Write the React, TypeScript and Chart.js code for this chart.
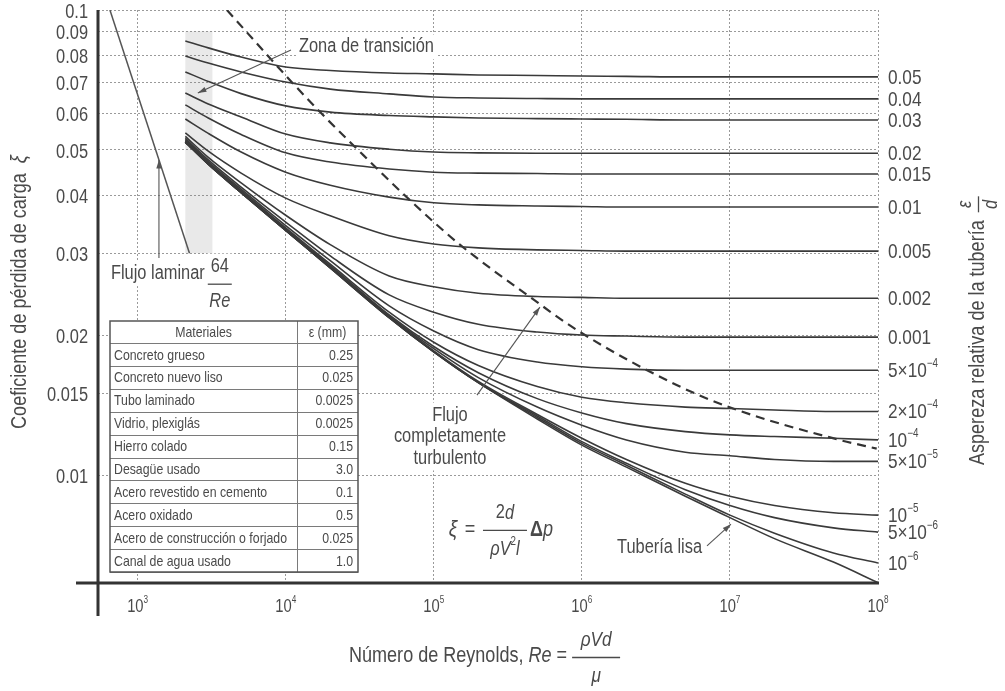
import React, { useEffect, useRef } from "react";
import { Chart, registerables } from "chart.js";

Chart.register(...registerables);

// ---------------- DATA ----------------
const reynolds = [2100, 3000, 5000, 1e4, 2e4, 5e4, 1e5, 2e5, 5e5, 1e6, 2e6, 5e6, 1e7, 2e7, 5e7, 1e8];

const f_0_05 = [0.0858, 0.0829, 0.0792, 0.0754, 0.0741, 0.0732, 0.0729, 0.0725, 0.0723, 0.0721, 0.072, 0.0718, 0.0718, 0.0718, 0.0718, 0.0718];
const f_0_04 = [0.0796, 0.0769, 0.0736, 0.07, 0.0676, 0.066, 0.065, 0.0647, 0.0645, 0.0644, 0.0644, 0.0644, 0.0644, 0.0644, 0.0644, 0.0644];
const f_0_03 = [0.0736, 0.0702, 0.0661, 0.0622, 0.0603, 0.0593, 0.0589, 0.0586, 0.0584, 0.0583, 0.0582, 0.058, 0.058, 0.058, 0.058, 0.058];
const f_0_02 = [0.0663, 0.0628, 0.0589, 0.0541, 0.0518, 0.0502, 0.0495, 0.0493, 0.0492, 0.0492, 0.0492, 0.0492, 0.0492, 0.0492, 0.0492, 0.0492];
const f_0_015 = [0.0625, 0.0586, 0.054, 0.0493, 0.0471, 0.0455, 0.0448, 0.0446, 0.0445, 0.0444, 0.0444, 0.0444, 0.0444, 0.0444, 0.0444, 0.0444];
const f_0_01 = [0.0583, 0.0543, 0.0495, 0.0448, 0.042, 0.0396, 0.0385, 0.0381, 0.0379, 0.0378, 0.0377, 0.0377, 0.0377, 0.0377, 0.0377, 0.0377];
const f_0_005 = [0.0544, 0.0497, 0.0446, 0.0394, 0.0361, 0.0327, 0.0314, 0.0308, 0.0305, 0.0304, 0.0303, 0.0303, 0.0303, 0.0303, 0.0303, 0.0303];
const f_0_002 = [0.0535, 0.0482, 0.0425, 0.0362, 0.0313, 0.0268, 0.0254, 0.0246, 0.0242, 0.0241, 0.024, 0.024, 0.024, 0.024, 0.024, 0.024];
const f_0_001 = [0.053, 0.0476, 0.0416, 0.035, 0.0296, 0.0244, 0.0224, 0.0211, 0.0203, 0.02, 0.0199, 0.0198, 0.0198, 0.0198, 0.0198, 0.0198];
const f_5e4 = [0.0527, 0.0472, 0.0412, 0.0344, 0.0289, 0.0231, 0.0204, 0.0186, 0.0175, 0.0171, 0.0169, 0.0168, 0.0168, 0.0168, 0.0168, 0.0168];
const f_2e4 = [0.0524, 0.047, 0.0409, 0.034, 0.0284, 0.0224, 0.0193, 0.0172, 0.0155, 0.0147, 0.0143, 0.014, 0.0139, 0.0138, 0.0137, 0.0137];
const f_1e4 = [0.0522, 0.0468, 0.0407, 0.0338, 0.0282, 0.0221, 0.0189, 0.0166, 0.0146, 0.0136, 0.0129, 0.0124, 0.0122, 0.0121, 0.012, 0.0119];
const f_5e5 = [0.0521, 0.0467, 0.0406, 0.0337, 0.0281, 0.022, 0.0187, 0.0162, 0.014, 0.0128, 0.0119, 0.0112, 0.011, 0.0108, 0.0107, 0.0107];
const f_1e5 = [0.052, 0.0466, 0.0405, 0.0336, 0.028, 0.0219, 0.0185, 0.0159, 0.0135, 0.012, 0.0108, 0.0096, 0.009, 0.0086, 0.0083, 0.0082];
const f_5e6 = [0.052, 0.0466, 0.0405, 0.0336, 0.0279, 0.0218, 0.0184, 0.0158, 0.0134, 0.0118, 0.0106, 0.0093, 0.0086, 0.0081, 0.0077, 0.00754];
const f_1e6 = [0.052, 0.0466, 0.0405, 0.0336, 0.0279, 0.0218, 0.0184, 0.0158, 0.0133, 0.0117, 0.0105, 0.0091, 0.0082, 0.0075, 0.0068, 0.00647];
const f_smooth = [0.052, 0.0466, 0.0405, 0.0336, 0.0279, 0.0218, 0.0184, 0.0158, 0.0132, 0.0116, 0.0104, 0.009, 0.0081, 0.0073, 0.0065, 0.00587];

const roughnessCurves = [f_0_05, f_0_04, f_0_03, f_0_02, f_0_015, f_0_01, f_0_005, f_0_002, f_0_001, f_5e4, f_2e4, f_1e4, f_5e5, f_1e5, f_5e6, f_1e6];
const roughnessLabels = ["0.05", "0.04", "0.03", "0.02", "0.015", "0.01", "0.005", "0.002", "0.001", "5×10^−4", "2×10^−4", "10^−4", "5×10^−5", "10^−5", "5×10^−6", "10^−6"];

// laminar flow line 64/Re (end points)
const laminarRe = [650, 2240];
const laminarF = [0.1, 0.03];

// dashed boundary of complete turbulence
const turbRe = [4010, 10200, 16500, 33300, 69000, 150000, 427000, 973000, 4.4e6, 1.05e7, 5.5e7, 9.8e7];
const turbF = [0.1, 0.0718, 0.061, 0.0488, 0.039, 0.0313, 0.0244, 0.0203, 0.0156, 0.0139, 0.0119, 0.0114];

// transition zone band
const transitionRe = [2100, 3200];
const transitionF = [0.03, 0.09];

// axes
const xMin = 540;
const xMax = 1e8;
const yMin = 0.00586;
const yMax = 0.1;
const xTicks = [1e3, 1e4, 1e5, 1e6, 1e7, 1e8];
const xTickLabels = ["10^3", "10^4", "10^5", "10^6", "10^7", "10^8"];
const yTicks = [0.1, 0.09, 0.08, 0.07, 0.06, 0.05, 0.04, 0.03, 0.02, 0.015, 0.01];
const yTickLabels = ["0.1", "0.09", "0.08", "0.07", "0.06", "0.05", "0.04", "0.03", "0.02", "0.015", "0.01"];

// table
const materials = [
  "Concreto grueso",
  "Concreto nuevo liso",
  "Tubo laminado",
  "Vidrio, plexiglás",
  "Hierro colado",
  "Desagüe usado",
  "Acero revestido en cemento",
  "Acero oxidado",
  "Acero de construcción o forjado",
  "Canal de agua usado",
];
const roughnessMm = ["0.25", "0.025", "0.0025", "0.0025", "0.15", "3.0", "0.1", "0.5", "0.025", "1.0"];

// annotation anchors (Re, ξ)
const zonaLabelAt = [12290, 0.0833];
const zonaArrow = [[10850, 0.082], [2550, 0.0663]];
const laminarLabelAt = [660, 0.0271];
const laminarArrow = [[1393, 0.0293], [1393, 0.0476]];
const turbLabelAt = [128600, 0.01346];
const turbArrow = [[195700, 0.01486], [521000, 0.02297]];
const formulaAt = [134800, 0.00762];
const smoothLabelAt = [1.727e6, 0.00697];
const smoothArrow = [[7.0e6, 0.00704], [1.016e7, 0.00784]];

// ---------------- DRAW HELPERS ----------------
const INK = "#4a4a4a";
const CURVE = "#3a3a3a";
const SQ = 0.82;
const fontOf = (size: number, it = false, b = false) =>
  `${it ? "italic " : ""}${b ? "bold " : ""}${size}px 'Liberation Sans', Arial, sans-serif`;

function textW(ctx: CanvasRenderingContext2D, s: string, size: number, it = false, b = false) {
  ctx.save();
  ctx.font = fontOf(size, it, b);
  const w = ctx.measureText(s).width * SQ;
  ctx.restore();
  return w;
}

function drawText(
  ctx: CanvasRenderingContext2D,
  s: string,
  x: number,
  y: number,
  size: number,
  align: CanvasTextAlign = "left",
  it = false,
  b = false,
  color = INK
) {
  ctx.save();
  ctx.font = fontOf(size, it, b);
  ctx.fillStyle = color;
  ctx.textAlign = align;
  ctx.textBaseline = "middle";
  ctx.translate(x, y);
  ctx.scale(SQ, 1);
  ctx.fillText(s, 0, 0);
  ctx.restore();
}

function bgText(ctx: CanvasRenderingContext2D, s: string, x: number, y: number, size: number, align: CanvasTextAlign = "left") {
  const w = textW(ctx, s, size);
  const left = align === "left" ? x : align === "center" ? x - w / 2 : x - w;
  ctx.save();
  ctx.fillStyle = "#fff";
  ctx.fillRect(left - 3, y - size * 0.62, w + 6, size * 1.24);
  ctx.restore();
  drawText(ctx, s, x, y, size, align);
}

type Seg = { t: string; size: number; dy?: number; it?: boolean; b?: boolean };

function richWidth(ctx: CanvasRenderingContext2D, segs: Seg[]) {
  return segs.reduce((a, s) => a + textW(ctx, s.t, s.size, s.it, s.b), 0);
}

function drawRich(ctx: CanvasRenderingContext2D, segs: Seg[], x: number, y: number, align: "left" | "center" | "right" = "left", color = INK) {
  const w = richWidth(ctx, segs);
  let cx = align === "left" ? x : align === "center" ? x - w / 2 : x - w;
  for (const s of segs) {
    drawText(ctx, s.t, cx, y + (s.dy || 0), s.size, "left", s.it, s.b, color);
    cx += textW(ctx, s.t, s.size, s.it, s.b);
  }
  return w;
}

function powSegs(label: string, size: number): Seg[] {
  const [base, sup] = label.split("^");
  const segs: Seg[] = [{ t: base, size }];
  if (sup) segs.push({ t: sup, size: Math.round(size * 0.58), dy: -size * 0.36 });
  return segs;
}

function arrow(ctx: CanvasRenderingContext2D, x1: number, y1: number, x2: number, y2: number, head = 9) {
  ctx.save();
  ctx.strokeStyle = "#555";
  ctx.fillStyle = "#555";
  ctx.lineWidth = 1.1;
  ctx.beginPath();
  ctx.moveTo(x1, y1);
  ctx.lineTo(x2, y2);
  ctx.stroke();
  const a = Math.atan2(y2 - y1, x2 - x1);
  ctx.beginPath();
  ctx.moveTo(x2, y2);
  ctx.lineTo(x2 - head * Math.cos(a - 0.3), y2 - head * Math.sin(a - 0.3));
  ctx.lineTo(x2 - head * Math.cos(a + 0.3), y2 - head * Math.sin(a + 0.3));
  ctx.closePath();
  ctx.fill();
  ctx.restore();
}

const decor = {
  id: "moodyDecor",
  beforeDatasetsDraw(chart: any) {
    const { ctx, scales } = chart;
    const x = scales.x, y = scales.y;
    const x1 = x.getPixelForValue(transitionRe[0]);
    const x2 = x.getPixelForValue(transitionRe[1]);
    const y1 = y.getPixelForValue(transitionF[1]);
    const y2 = y.getPixelForValue(transitionF[0]);
    ctx.save();
    ctx.fillStyle = "rgba(120,120,120,0.16)";
    ctx.fillRect(x1, y1, x2 - x1, y2 - y1);
    ctx.restore();
  },
  afterDatasetsDraw(chart: any) {
    const { ctx, scales, chartArea: ca } = chart;
    const px = (v: number) => scales.x.getPixelForValue(v);
    const py = (v: number) => scales.y.getPixelForValue(v);

    // Zona de transición
    bgText(ctx, "Zona de transición", px(zonaLabelAt[0]), py(zonaLabelAt[1]), 20);
    arrow(ctx, px(zonaArrow[0][0]), py(zonaArrow[0][1]), px(zonaArrow[1][0]), py(zonaArrow[1][1]));

    // Flujo laminar 64/Re
    const lx = px(laminarLabelAt[0]);
    const ly = py(laminarLabelAt[1]);
    bgText(ctx, "Flujo laminar", lx, ly, 20);
    const fcx = lx + textW(ctx, "Flujo laminar", 20) + 15;
    ctx.save();
    ctx.fillStyle = "#fff";
    ctx.fillRect(fcx - 13, ly - 20, 26, 58);
    ctx.restore();
    drawText(ctx, "64", fcx, ly - 7, 20, "center");
    ctx.save();
    ctx.strokeStyle = INK;
    ctx.lineWidth = 1.3;
    ctx.beginPath();
    ctx.moveTo(fcx - 12, ly + 10.5);
    ctx.lineTo(fcx + 12, ly + 10.5);
    ctx.stroke();
    ctx.restore();
    drawText(ctx, "Re", fcx, ly + 28, 20, "center", true);
    arrow(ctx, px(laminarArrow[0][0]), py(laminarArrow[0][1]), px(laminarArrow[1][0]), py(laminarArrow[1][1]));

    // Flujo completamente turbulento
    const tx = px(turbLabelAt[0]);
    const ty = py(turbLabelAt[1]);
    ["Flujo", "completamente", "turbulento"].forEach((s, i) => bgText(ctx, s, tx, ty + i * 21.5, 20, "center"));
    arrow(ctx, px(turbArrow[0][0]), py(turbArrow[0][1]), px(turbArrow[1][0]), py(turbArrow[1][1]));

    // formula
    const fx = px(formulaAt[0]);
    const fy = py(formulaAt[1]);
    ctx.save();
    ctx.fillStyle = "#fff";
    ctx.fillRect(fx - 10, fy - 30, 122, 62);
    ctx.restore();
    drawText(ctx, "ξ", fx, fy, 23, "center", true);
    drawText(ctx, "=", fx + 17, fy, 22, "center");
    const fracC = fx + 52;
    drawRich(ctx, [{ t: "2", size: 20 }, { t: "d", size: 20, it: true }], fracC, fy - 17, "center");
    ctx.save();
    ctx.strokeStyle = INK;
    ctx.lineWidth = 1.3;
    ctx.beginPath();
    ctx.moveTo(fracC - 22, fy + 0.5);
    ctx.lineTo(fracC + 22, fy + 0.5);
    ctx.stroke();
    ctx.restore();
    drawRich(
      ctx,
      [
        { t: "ρV", size: 20, it: true },
        { t: "2", size: 12, dy: -7 },
        { t: "l", size: 20, it: true },
      ],
      fracC,
      fy + 19,
      "center"
    );
    drawRich(ctx, [{ t: "Δ", size: 22, b: true }, { t: "p", size: 22, it: true }], fracC + 25, fy, "left");

    // Tubería lisa
    bgText(ctx, "Tubería lisa", px(smoothLabelAt[0]), py(smoothLabelAt[1]), 20);
    arrow(ctx, px(smoothArrow[0][0]), py(smoothArrow[0][1]), px(smoothArrow[1][0]), py(smoothArrow[1][1]));

    // table
    const tl = ca.left + 12;
    const tr = ca.left + 260;
    const tt = ca.top + 311;
    const tb = ca.bottom - 11;
    const tc = ca.left + 199;
    const headH = 22;
    const rowH = (tb - tt - headH) / materials.length;
    ctx.save();
    ctx.fillStyle = "#fff";
    ctx.fillRect(tl, tt, tr - tl, tb - tt);
    ctx.strokeStyle = "#7a7a7a";
    ctx.lineWidth = 1;
    for (let i = 0; i <= materials.length; i++) {
      const yy = Math.round(tt + headH + i * rowH) + 0.5;
      ctx.beginPath();
      ctx.moveTo(tl, yy);
      ctx.lineTo(tr, yy);
      ctx.stroke();
    }
    ctx.beginPath();
    ctx.moveTo(tc + 0.5, tt);
    ctx.lineTo(tc + 0.5, tb);
    ctx.stroke();
    ctx.strokeStyle = "#555";
    ctx.lineWidth = 1.5;
    ctx.strokeRect(tl, tt, tr - tl, tb - tt);
    ctx.restore();
    drawText(ctx, "Materiales", (tl + tc) / 2, tt + headH / 2 + 1, 15, "center");
    drawText(ctx, "ε (mm)", (tc + tr) / 2, tt + headH / 2 + 1, 15, "center");
    materials.forEach((m, i) => {
      const yy = tt + headH + (i + 0.5) * rowH + 1;
      drawText(ctx, m, tl + 4, yy, 15, "left");
      drawText(ctx, roughnessMm[i], tr - 5, yy, 15, "right");
    });
  },
  afterDraw(chart: any) {
    const { ctx, scales, chartArea: ca } = chart;
    const px = (v: number) => scales.x.getPixelForValue(v);
    const py = (v: number) => scales.y.getPixelForValue(v);

    // axis lines
    ctx.save();
    ctx.strokeStyle = "#333";
    ctx.lineWidth = 3;
    ctx.beginPath();
    ctx.moveTo(ca.left - 22, ca.bottom);
    ctx.lineTo(ca.right + 1, ca.bottom);
    ctx.stroke();
    ctx.beginPath();
    ctx.moveTo(ca.left, ca.top);
    ctx.lineTo(ca.left, ca.bottom + 33);
    ctx.stroke();
    ctx.restore();

    // y tick labels
    yTicks.forEach((v, i) => drawText(ctx, yTickLabels[i], ca.left - 10, py(v) + 2, 20, "right"));
    // x tick labels
    xTicks.forEach((v, i) => drawRich(ctx, powSegs(xTickLabels[i], 18), px(v), ca.bottom + 24, "center"));
    // right labels
    roughnessCurves.forEach((vals, i) =>
      drawRich(ctx, powSegs(roughnessLabels[i], 21), ca.right + 10, py(vals[vals.length - 1]) + 1, "left")
    );

    // x title
    const tx0 = 349;
    const ty0 = ca.bottom + 73;
    const w = drawRich(
      ctx,
      [
        { t: "Número de Reynolds, ", size: 22 },
        { t: "Re", size: 22, it: true },
        { t: " = ", size: 22 },
      ],
      tx0,
      ty0,
      "left"
    );
    const fc = tx0 + w + 24;
    drawText(ctx, "ρVd", fc, ty0 - 16, 21, "center", true);
    ctx.save();
    ctx.strokeStyle = INK;
    ctx.lineWidth = 1.3;
    ctx.beginPath();
    ctx.moveTo(fc - 24, ty0 + 1.5);
    ctx.lineTo(fc + 24, ty0 + 1.5);
    ctx.stroke();
    ctx.restore();
    drawText(ctx, "μ", fc, ty0 + 20, 21, "center", true);

    // y title (left)
    ctx.save();
    ctx.translate(20, 292);
    ctx.rotate(-Math.PI / 2);
    drawRich(ctx, [{ t: "Coeficiente de pérdida de carga  ", size: 22 }, { t: "ξ", size: 22, it: true }], 0, 0, "center");
    ctx.restore();

    // y title (right)
    ctx.save();
    ctx.translate(978, 465);
    ctx.rotate(-Math.PI / 2);
    const rw = drawRich(ctx, [{ t: "Aspereza relativa de la tubería", size: 22 }], 0, 0, "left");
    const rc = rw + 16;
    drawText(ctx, "ε", rc, -13, 20, "center", true);
    ctx.strokeStyle = INK;
    ctx.lineWidth = 1.3;
    ctx.beginPath();
    ctx.moveTo(rc - 8, 0.5);
    ctx.lineTo(rc + 8, 0.5);
    ctx.stroke();
    drawText(ctx, "d", rc, 13, 20, "center", true);
    ctx.restore();
  },
};

export default function App() {
  const ref = useRef<HTMLCanvasElement>(null);
  useEffect(() => {
    const canvas = ref.current;
    if (!canvas) return;
    const curveSets = [...roughnessCurves, f_smooth].map((vals) => ({
      data: reynolds.map((re, i) => ({ x: re, y: vals[i] })),
      borderColor: CURVE,
      borderWidth: 1.6,
      pointRadius: 0,
      fill: false,
      tension: 0.4,
      cubicInterpolationMode: "monotone" as const,
    }));
    const laminar = {
      data: laminarRe.map((re, i) => ({ x: re, y: laminarF[i] })),
      borderColor: "#555",
      borderWidth: 1.5,
      pointRadius: 0,
      fill: false,
      tension: 0,
    };
    const turbulent = {
      data: turbRe.map((re, i) => ({ x: re, y: turbF[i] })),
      borderColor: "#333",
      borderWidth: 2.2,
      borderDash: [9, 6],
      pointRadius: 0,
      fill: false,
      tension: 0.4,
      cubicInterpolationMode: "monotone" as const,
    };
    const chart = new Chart(canvas, {
      type: "line",
      data: { datasets: [...curveSets, laminar, turbulent] as any },
      plugins: [decor],
      options: {
        animation: false,
        responsive: false,
        maintainAspectRatio: false,
        events: [],
        layout: { padding: { left: 0, right: 127, top: 10, bottom: 0 } },
        plugins: { legend: { display: false }, tooltip: { enabled: false } },
        scales: {
          x: {
            type: "logarithmic",
            min: xMin,
            max: xMax,
            afterBuildTicks: (s: any) => {
              s.ticks = xTicks.map((v) => ({ value: v }));
            },
            afterFit: (s: any) => {
              s.height = 108;
            },
            ticks: { display: false },
            grid: { color: "#9a9a9a", lineWidth: 1, drawTicks: false },
            border: { display: false, dash: [2, 2] },
          },
          y: {
            type: "logarithmic",
            min: yMin,
            max: yMax,
            afterBuildTicks: (s: any) => {
              s.ticks = yTicks.map((v) => ({ value: v }));
            },
            afterFit: (s: any) => {
              s.width = 98;
            },
            ticks: { display: false },
            grid: { color: "#9a9a9a", lineWidth: 1, drawTicks: false },
            border: { display: false, dash: [2, 2] },
          },
        },
      } as any,
    });
    return () => chart.destroy();
  }, []);
  return (
    <div style={{ position: "fixed", left: 0, top: 0, width: 1005, height: 691, background: "#fff" }}>
      <canvas ref={ref} width={1005} height={691} style={{ display: "block", width: 1005, height: 691 }} />
    </div>
  );
}
